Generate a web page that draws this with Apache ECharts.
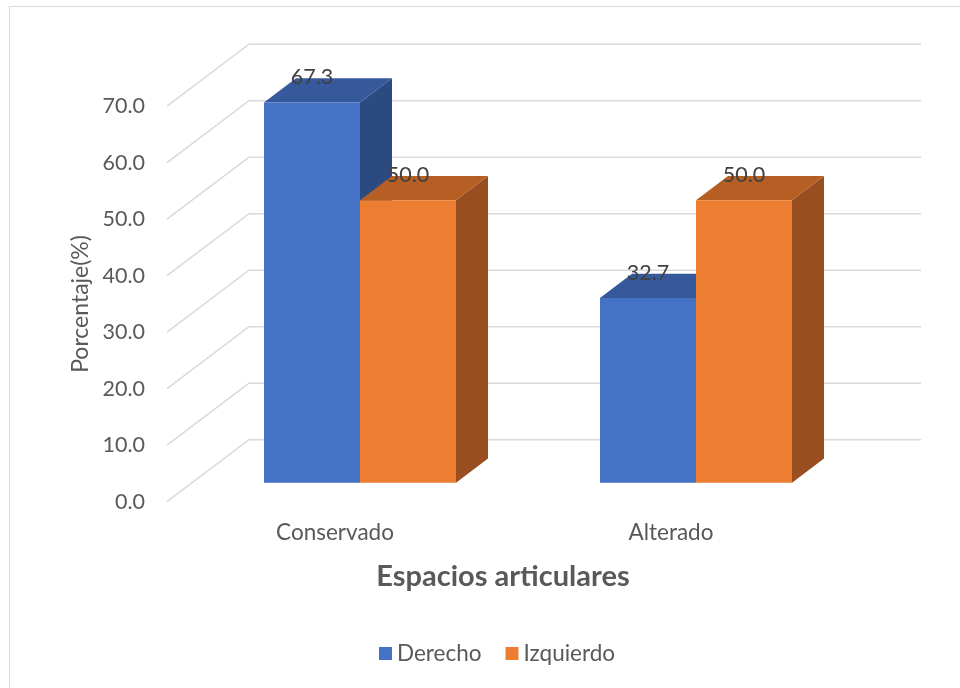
<!DOCTYPE html>
<html>
<head>
<meta charset="utf-8">
<script src="https://cdn.jsdelivr.net/npm/echarts@6/dist/echarts.min.js"></script>
<style>
  html, body { margin: 0; padding: 0; background: #ffffff; }
  #chart { width: 960px; height: 688px; }
</style>
</head>
<body>
<div id="chart"></div>
<script>
// Chart data
const categories = ['Conservado', 'Alterado'];
const seriesNames = ['Derecho', 'Izquierdo'];
const derecho = [67.3, 32.7];
const izquierdo = [50.0, 50.0];
const yTicks = [0, 10, 20, 30, 40, 50, 60, 70];

// Face colours for each box: front, top, side
const palette = [
  { front: '#4472C4', top: '#35599A', side: '#2B4A80' },
  { front: '#ED7D31', top: '#B55F24', side: '#994E1F' }
];

// Oblique projection of the depth axis (pixels from front plane to back wall)
const DEPTH_X = 82;
const DEPTH_Y = -62;
// Box sits between these fractions of the full depth
const BOX_START = 25 / 82;
const BOX_DEPTH = 32 / 82;
// Bar width as a share of one category band (gap width 150%)
const BAR_SHARE = 96 / 336;

const FONT = 'Lato, "Open Sans", sans-serif';
const TEXT = '#595959';

function boxRenderer(seriesIdx) {
  const col = palette[seriesIdx];
  return function (params, api) {
    const cat = api.value(0);
    const val = api.value(1);
    const base = api.coord([cat, 0]);
    const top = api.coord([cat, val]);
    const band = api.size([1, 0])[0];
    const w = band * BAR_SHARE;
    const sx = DEPTH_X * BOX_START, sy = DEPTH_Y * BOX_START;
    const dx = DEPTH_X * BOX_DEPTH, dy = DEPTH_Y * BOX_DEPTH;
    const x0 = base[0] - w + seriesIdx * w + sx;
    const x1 = x0 + w;
    const yb = base[1] + sy;
    const yt = top[1] + sy;
    return {
      type: 'group',
      children: [
        { type: 'polygon', shape: { points: [[x1, yb], [x1 + dx, yb + dy], [x1 + dx, yt + dy], [x1, yt]] },
          style: { fill: col.side } },
        { type: 'polygon', shape: { points: [[x0, yt], [x1, yt], [x1 + dx, yt + dy], [x0 + dx, yt + dy]] },
          style: { fill: col.top } },
        { type: 'rect', shape: { x: x0, y: yt, width: w, height: yb - yt },
          style: { fill: col.front } },
        { type: 'text', z2: 100,
          style: { text: val.toFixed(1), x: (x0 + x1) / 2, y: yt + dy - 1,
                   align: 'center', verticalAlign: 'middle',
                   fill: '#404040', font: '21.5px ' + FONT } }
      ]
    };
  };
}

// Side-wall and back-wall gridlines for each y tick
function gridRenderer(params, api) {
  const cs = params.coordSys;
  const y = api.coord([0, api.value(1)])[1];
  const x0 = cs.x;
  const xb = cs.x + DEPTH_X;
  const xe = cs.x + cs.width + DEPTH_X;
  return {
    type: 'polyline',
    shape: { points: [[x0, y], [xb, y + DEPTH_Y], [xe, y + DEPTH_Y]] },
    style: { stroke: '#D9D9D9', lineWidth: 1.5, fill: null }
  };
}

const chart = echarts.init(document.getElementById('chart'), null, { renderer: 'canvas' });

chart.setOption({
  backgroundColor: '#ffffff',
  animation: false,
  textStyle: { fontFamily: FONT },
  graphic: [{
    type: 'rect', silent: true, z: -10,
    shape: { x: 9.5, y: 6.5, width: 1000, height: 1000 },
    style: { fill: null, stroke: '#D9D9D9', lineWidth: 1 }
  }],
  grid: { left: 167, top: 106.2, width: 672, height: 395.5, containLabel: false },
  legend: {
    left: 379, top: 642, padding: 0,
    icon: 'rect', itemWidth: 13, itemHeight: 13, itemGap: 24,
    textStyle: { color: TEXT, fontSize: 22.5, fontFamily: FONT },
    data: seriesNames
  },
  xAxis: {
    type: 'category',
    data: categories,
    axisLine: { show: false },
    axisTick: { show: false },
    splitLine: { show: false },
    axisLabel: { color: TEXT, fontSize: 22.5, margin: 20, fontFamily: FONT },
    name: 'Espacios articulares',
    nameLocation: 'middle',
    nameGap: 60,
    nameTextStyle: { color: TEXT, fontSize: 29, fontWeight: 'bold', fontFamily: FONT }
  },
  yAxis: {
    type: 'value',
    min: 0, max: 70, interval: 10,
    axisLine: { show: false },
    axisTick: { show: false },
    splitLine: { show: false },
    axisLabel: { color: TEXT, fontSize: 21.5, margin: 22, fontFamily: FONT,
                 formatter: v => v.toFixed(1) },
    name: 'Porcentaje(%)',
    nameLocation: 'middle',
    nameGap: 75,
    nameTextStyle: { color: TEXT, fontSize: 23, fontFamily: FONT }
  },
  series: [
    {
      type: 'custom', name: '_grid', z: 1, silent: true,
      renderItem: gridRenderer,
      data: yTicks.map(v => [0, v])
    },
    {
      type: 'custom', name: seriesNames[0], z: 2,
      itemStyle: { color: palette[0].front },
      renderItem: boxRenderer(0),
      data: derecho.map((v, i) => [i, v])
    },
    {
      type: 'custom', name: seriesNames[1], z: 2,
      itemStyle: { color: palette[1].front },
      renderItem: boxRenderer(1),
      data: izquierdo.map((v, i) => [i, v])
    }
  ]
});
</script>
</body>
</html>
